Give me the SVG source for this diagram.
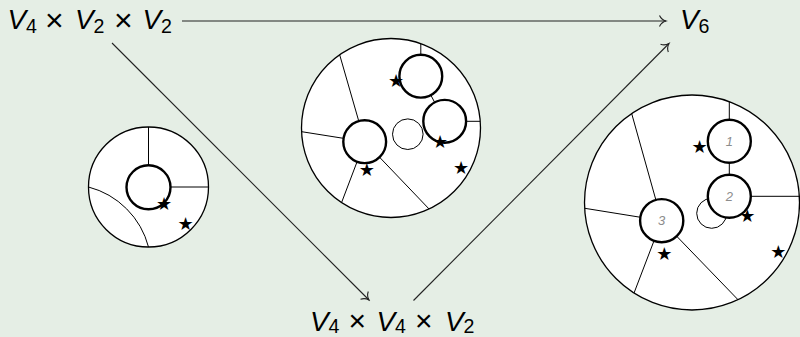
<svg xmlns="http://www.w3.org/2000/svg" width="800" height="337" viewBox="0 0 800 337">
<style>
.bg{fill:#e5eee5}
.disk{fill:#fff;stroke:none}
.rim{fill:none;stroke:#000;stroke-width:1.3}
.cell{fill:none;stroke:#000;stroke-width:1}
.puck{fill:#fff;stroke:#000;stroke-width:2.4}
.thin{fill:#fff;stroke:#000;stroke-width:1}
.arrow{fill:none;stroke:#222;stroke-width:1.1;marker-end:url(#tip)}
.star{font-family:"DejaVu Sans",sans-serif;font-size:18px;text-anchor:middle;dominant-baseline:central;fill:#000}
.num{font-family:"Liberation Sans",Arial,sans-serif;font-style:italic;font-size:13px;text-anchor:middle;fill:#8c8c8c}
.math{font-family:"Liberation Sans",Arial,sans-serif;font-size:28px;fill:#000}
.v{font-style:italic}
.sub{font-size:19.6px}
.op{font-size:32px}
.opb{font-size:30px}
</style>
<defs>
<marker id="tip" markerUnits="userSpaceOnUse" viewBox="-8 -7 10 14" refX="0" refY="0" markerWidth="10" markerHeight="14" orient="auto">
<path d="M-6.5,-5.5 C-5,-2.2 -2.2,-0.6 0,0 C-2.2,0.6 -5,2.2 -6.5,5.5" fill="none" stroke="#222" stroke-width="1.1"/>
</marker>
<clipPath id="c1"><circle cx="148.5" cy="187" r="60"/></clipPath>
<clipPath id="c2"><circle cx="391" cy="128" r="89.5"/></clipPath>
<clipPath id="c3"><circle cx="692" cy="202.5" r="107.5"/></clipPath>
</defs>
<rect class="bg" x="0" y="0" width="800" height="337"/>

<g id="connectors">
<path class="arrow" d="M182,21 L666,21"/>
<path class="arrow" d="M112,43 L369,300"/>
<path class="arrow" d="M413.5,300.5 L669,43.5"/>
</g>

<g id="node-source">
<text class="math" y="29"><tspan class="v" x="7.5">V</tspan><tspan class="sub" x="26" y="33">4</tspan><tspan class="op" x="45" y="30.5">×</tspan><tspan class="v" x="75" y="29">V</tspan><tspan class="sub" x="93.5" y="33">2</tspan><tspan class="op" x="114" y="30.5">×</tspan><tspan class="v" x="142.5" y="29">V</tspan><tspan class="sub" x="161" y="33">2</tspan></text>
</g>

<g id="node-target">
<text class="math" y="29"><tspan class="v" x="680">V</tspan><tspan class="sub" x="698.5" y="33">6</tspan></text>
</g>

<g id="node-middle">
<text class="math" y="330.5"><tspan class="v" x="310">V</tspan><tspan class="sub" x="328.5" y="333">4</tspan><tspan class="opb" x="348.5" y="330.5">×</tspan><tspan class="v" x="376.5" y="330.5">V</tspan><tspan class="sub" x="395" y="333">4</tspan><tspan class="opb" x="415" y="330.5">×</tspan><tspan class="v" x="445" y="330.5">V</tspan><tspan class="sub" x="463.5" y="333">2</tspan></text>
</g>

<g id="disk1">
<circle class="disk" cx="148.5" cy="187" r="60"/>
<g clip-path="url(#c1)">
<path class="cell" d="M148.5,187 L148.5,122 M148.5,187 L214,187 M88.5,187 A84,84 0 0 1 148.5,247"/>
</g>
<circle class="rim" cx="148.5" cy="187" r="60"/>
<circle class="puck" cx="148.5" cy="187.3" r="22"/>
<text class="star" x="164" y="203">★</text>
<text class="star" x="185.5" y="223.5">★</text>
</g>

<g id="disk2">
<circle class="disk" cx="391" cy="128" r="89.5"/>
<g clip-path="url(#c2)">
<path class="cell" d="M420.8,76.2 L420.8,36 M420.8,76.2 L444.7,121.3 M444.7,121.3 L486,121.3 M364.7,141.7 L338,49 M364.7,141.7 L296,130.8 M364.7,141.7 L339.5,208 M364.7,141.7 L431,211"/>
</g>
<circle class="rim" cx="391" cy="128" r="89.5"/>
<circle class="thin" cx="407.8" cy="134.2" r="15.3"/>
<circle class="puck" cx="420.8" cy="76.2" r="21.4"/>
<circle class="puck" cx="444.7" cy="121.3" r="21.4"/>
<circle class="puck" cx="364.7" cy="141.7" r="21.4"/>
<text class="star" x="396" y="80">★</text>
<text class="star" x="366.7" y="169.3">★</text>
<text class="star" x="440" y="141.7">★</text>
<text class="star" x="461" y="167.7">★</text>
</g>

<g id="disk3">
<circle class="disk" cx="692" cy="202.5" r="107.5"/>
<g clip-path="url(#c3)">
<path class="cell" d="M729.3,141.3 L729.3,93 M729.3,141.3 L729.3,196.3 M729.3,196.3 L805,196.3 M661.7,220.7 L629,104 M661.7,220.7 L578,207.2 M661.7,220.7 L632.5,297 M661.7,220.7 L741,302.8"/>
</g>
<circle class="rim" cx="692" cy="202.5" r="107.5"/>
<circle class="thin" cx="711.7" cy="213.3" r="15"/>
<circle class="puck" cx="729.3" cy="141.3" r="21.5"/>
<circle class="puck" cx="729.3" cy="196.3" r="21.5"/>
<circle class="puck" cx="661.7" cy="220.7" r="21.6"/>
<text class="num" x="729.3" y="146">1</text>
<text class="num" x="729.3" y="201">2</text>
<text class="num" x="661.7" y="225.4">3</text>
<text class="star" x="699.5" y="146.7">★</text>
<text class="star" x="747.3" y="215">★</text>
<text class="star" x="664.3" y="253.3">★</text>
<text class="star" x="778.3" y="251.7">★</text>
</g>
</svg>
